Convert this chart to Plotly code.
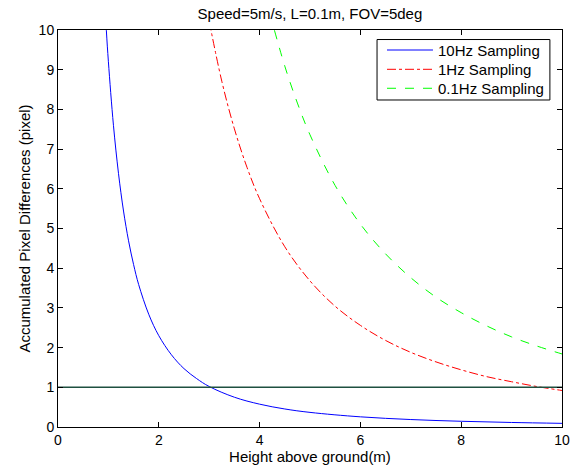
import plotly.graph_objects as go

h_10hz = [0.9, 0.96, 1.0, 1.1, 1.2, 1.3, 1.4, 1.5, 1.6, 1.8, 2.0, 2.25, 2.5, 2.75, 3.0, 3.5, 4.0, 4.5, 5.0, 6.0, 7.0, 8.0, 9.0, 10.0]
v_10hz = [11.36, 9.98, 9.2, 7.6, 6.39, 5.44, 4.69, 4.09, 3.59, 2.84, 2.30, 1.82, 1.47, 1.22, 1.02, 0.75, 0.575, 0.454, 0.368, 0.256, 0.188, 0.144, 0.114, 0.092]

h_1hz = [3.0, 3.25, 3.5, 3.75, 4.0, 4.5, 5.0, 5.5, 6.0, 6.5, 7.0, 7.5, 8.0, 8.5, 9.0, 9.5, 10.0]
v_1hz = [10.22, 8.71, 7.51, 6.54, 5.75, 4.54, 3.68, 3.04, 2.56, 2.18, 1.88, 1.64, 1.44, 1.27, 1.14, 1.02, 0.92]

h_01hz = [4.2, 4.5, 4.75, 5.0, 5.5, 6.0, 6.5, 7.0, 7.5, 8.0, 8.5, 9.0, 9.5, 10.0]
v_01hz = [10.43, 9.09, 8.16, 7.36, 6.08, 5.11, 4.36, 3.76, 3.27, 2.88, 2.55, 2.27, 2.04, 1.84]

thresh_x = [0, 10]
thresh_y = [1, 1]

x_ticks = [0, 2, 4, 6, 8, 10]
y_ticks = [0, 1, 2, 3, 4, 5, 6, 7, 8, 9, 10]

series_names = ["10Hz Sampling", "1Hz Sampling", "0.1Hz Sampling"]
series_colors = ["#0000ff", "#ff0000", "#00ff00"]
series_dash = ["solid", "dashdot", "dash"]

FONT = "Liberation Sans, Arial, Helvetica, sans-serif"

fig = go.Figure()
for hx, vy, nm, col, dsh in zip([h_10hz, h_1hz, h_01hz], [v_10hz, v_1hz, v_01hz],
                                 series_names, series_colors, series_dash):
    fig.add_trace(go.Scatter(x=hx, y=vy, mode="lines", name=nm, showlegend=False,
                             line=dict(color=col, width=1, dash=dsh, shape="spline")))
fig.add_trace(go.Scatter(x=thresh_x, y=thresh_y, mode="lines", showlegend=False,
                         line=dict(color="#1e5040", width=1.6)))

# Manual legend (paper coordinates) to mimic MATLAB legend box
shapes = [dict(type="rect", xref="paper", yref="paper", x0=0.633, x1=0.976, y0=0.8237, y1=0.976,
               line=dict(color="black", width=1), fillcolor="white", layer="above")]
annotations = []
row_y = [0.9496, 0.901, 0.8532]
for ry, nm, col, dsh in zip(row_y, series_names, series_colors, series_dash):
    shapes.append(dict(type="line", xref="paper", yref="paper", x0=0.6528, x1=0.744, y0=ry, y1=ry,
                       line=dict(color=col, width=1, dash=dsh), layer="above"))
    annotations.append(dict(xref="paper", yref="paper", x=0.750, y=ry, xanchor="left", yanchor="middle",
                            text=nm, showarrow=False,
                            font=dict(family=FONT, size=15, color="black")))

axis_common = dict(showgrid=False, zeroline=False, showline=True, linecolor="black",
                   linewidth=1, mirror="ticks", ticks="inside", ticklen=5,
                   tickcolor="black", tickfont=dict(family=FONT, size=14, color="black"))

fig.update_layout(
    width=587, height=470,
    margin=dict(l=58, r=25, t=30, b=43),
    paper_bgcolor="white", plot_bgcolor="white",
    title=dict(text="Speed=5m/s, L=0.1m, FOV=5deg", x=0.528, xanchor="center",
               y=0.982, yanchor="top", pad=dict(t=0, b=0),
               font=dict(family=FONT, size=15, color="black")),
    xaxis=dict(range=[0, 10], tickvals=x_ticks, **axis_common,
               title=dict(text="Height above ground(m)", standoff=1,
                          font=dict(family=FONT, size=15, color="black"))),
    yaxis=dict(range=[0, 10], tickvals=y_ticks, **axis_common,
               title=dict(text="Accumulated Pixel Differences (pixel)", standoff=4,
                          font=dict(family=FONT, size=15, color="black"))),
    shapes=shapes,
    annotations=annotations,
    showlegend=False,
)

fig.write_html("out.html")
